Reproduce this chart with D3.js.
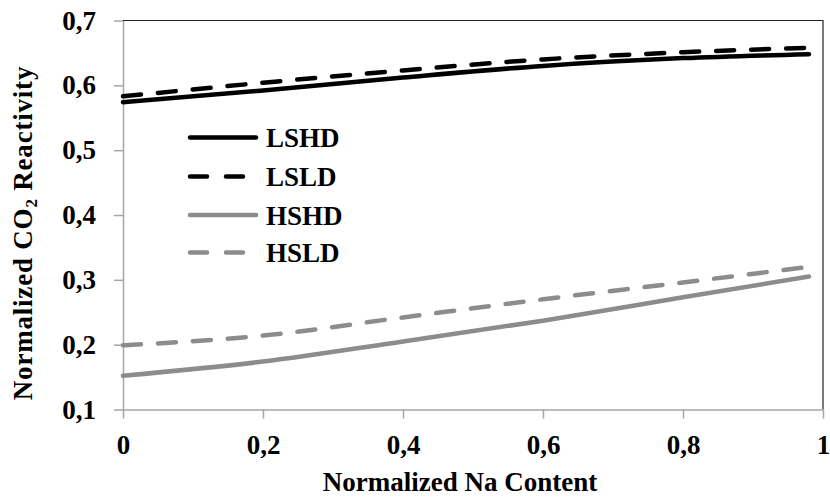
<!DOCTYPE html>
<html>
<head>
<meta charset="utf-8">
<title>Normalized CO2 Reactivity</title>
</head>
<body style="margin:0;background:#fff">
<div id="chart"></div>
<script src="https://d3js.org/d3.v7.min.js"></script>
<script>
// x positions of the curves (normalized Na content)
var naContent = [0, 0.2, 0.4, 0.6, 0.8, 0.98];
// normalized CO2 reactivity
var lshd = [0.574, 0.592, 0.612, 0.630, 0.642, 0.648];
var lsld = [0.583, 0.604, 0.623, 0.640, 0.651, 0.658];
var hshd = [0.152, 0.174, 0.205, 0.237, 0.273, 0.305];
var hsld = [0.199, 0.214, 0.242, 0.270, 0.296, 0.320];
var seriesNames = ["LSHD", "LSLD", "HSHD", "HSLD"];
var xTicks = [0, 0.2, 0.4, 0.6, 0.8, 1];
var yTicks = [0.1, 0.2, 0.3, 0.4, 0.5, 0.6, 0.7];

var FONT = "Liberation Serif";
var width = 830, height = 500;
var margin = {top: 20.5, right: 7, bottom: 90.5, left: 123};

var svg = d3.select("#chart").append("svg")
  .attr("width", width).attr("height", height);

var x = d3.scaleLinear().domain([0, 1]).range([margin.left, width - margin.right]);
var y = d3.scaleLinear().domain([0.1, 0.7]).range([height - margin.bottom, margin.top]);

var fmt = function(d) { return String(d).replace(".", ","); };

// set the serif font on a text node, both as attribute and inline style
function serif(sel, size) {
  return sel.attr("font-family", FONT)
    .attr("font-weight", "bold")
    .attr("font-size", size)
    .style("font-family", "'Liberation Serif', 'Times New Roman', serif")
    .style("font-weight", "bold")
    .style("font-size", size + "px");
}

// thin dark frame on top / right
svg.append("path")
  .attr("d", "M" + x(0) + "," + y(0.7) + "H" + x(1) + "V" + y(0.1))
  .attr("fill", "none").attr("stroke", "#222").attr("stroke-width", 1.2);

var xAxis = svg.append("g")
  .attr("transform", "translate(0," + y(0.1) + ")")
  .call(d3.axisBottom(x).tickValues(xTicks).tickFormat(fmt).tickSize(9).tickSizeOuter(0).tickPadding(16));

var yAxis = svg.append("g")
  .attr("transform", "translate(" + x(0) + ",0)")
  .call(d3.axisLeft(y).tickValues(yTicks).tickFormat(fmt).tickSize(9).tickSizeOuter(0).tickPadding(18));

[xAxis, yAxis].forEach(function(g) {
  g.attr("font-family", null).attr("font-size", null);
  g.selectAll("path, line").attr("stroke", "#a6a6a6").attr("stroke-width", 1.5);
  serif(g.selectAll("text"), 27).attr("fill", "#000");
});

var styles = [
  {data: lshd, color: "#000", dash: null},
  {data: lsld, color: "#000", dash: "18,17"},
  {data: hshd, color: "#8c8c8c", dash: null},
  {data: hsld, color: "#8c8c8c", dash: "18,17"}
];

var line = d3.line()
  .x(function(d, i) { return x(naContent[i]); })
  .y(function(d) { return y(d); })
  .curve(d3.curveMonotoneX);

styles.forEach(function(s) {
  svg.append("path")
    .attr("d", line(s.data))
    .attr("fill", "none")
    .attr("stroke", s.color)
    .attr("stroke-width", 4.5)
    .attr("stroke-linecap", "round")
    .attr("stroke-dasharray", s.dash);
});

// legend
var legendY = [137.5, 176.5, 215, 252.5];
var legend = svg.append("g");
seriesNames.forEach(function(name, i) {
  legend.append("line")
    .attr("x1", 190).attr("x2", 256)
    .attr("y1", legendY[i]).attr("y2", legendY[i])
    .attr("stroke", styles[i].color)
    .attr("stroke-width", 4.5)
    .attr("stroke-linecap", "round")
    .attr("stroke-dasharray", styles[i].dash ? "17,19" : null);
  serif(legend.append("text"), 27)
    .attr("x", 266).attr("y", legendY[i] + 9.5)
    .text(name);
});

// axis titles
serif(svg.append("text"), 27)
  .attr("x", 460).attr("y", 491)
  .attr("text-anchor", "middle")
  .text("Normalized Na Content");

var yTitle = serif(svg.append("text"), 27)
  .attr("transform", "translate(32,233) rotate(-90)")
  .attr("text-anchor", "middle")
  .style("letter-spacing", "0.8px");
yTitle.append("tspan").text("Normalized CO");
yTitle.append("tspan").attr("dy", 5).style("font-size", "17px").text("2");
yTitle.append("tspan").attr("dy", -5).text(" Reactivity");
</script>
</body>
</html>
